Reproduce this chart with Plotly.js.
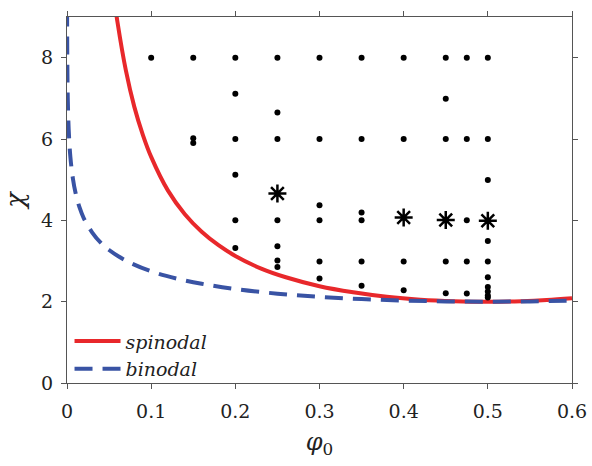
<!DOCTYPE html>
<html>
<head>
<meta charset="utf-8">
<script src="https://cdn.plot.ly/plotly-3.0.1.min.js"></script>
<style>html,body{margin:0;padding:0;background:#fff;}#chart{width:592px;height:466px;}</style>
</head>
<body>
<div id="chart"></div>
<script>
// Spinodal curve
const spinPhi = [0.0556, 0.06, 0.07, 0.08, 0.09, 0.10, 0.12, 0.14, 0.16, 0.18, 0.20, 0.23, 0.26, 0.30, 0.34, 0.38, 0.42, 0.46, 0.50, 0.54, 0.57, 0.60];
const spinChi = [9.52, 8.87, 7.68, 6.79, 6.11, 5.56, 4.73, 4.15, 3.72, 3.39, 3.125, 2.82, 2.60, 2.38, 2.23, 2.12, 2.05, 2.013, 2.0, 2.013, 2.04, 2.083];
// Binodal curve
const binPhi = [0.0001, 0.0002, 0.0005, 0.001, 0.002, 0.004, 0.007, 0.01, 0.015, 0.02, 0.03, 0.04, 0.05, 0.07, 0.10, 0.13, 0.16, 0.20, 0.25, 0.30, 0.35, 0.40, 0.45, 0.50, 0.55, 0.60];
const binChi = [9.21, 8.52, 7.61, 6.92, 6.24, 5.56, 5.03, 4.69, 4.31, 4.05, 3.70, 3.45, 3.27, 3.01, 2.746, 2.57, 2.44, 2.31, 2.197, 2.118, 2.063, 2.027, 2.007, 2.0, 2.007, 2.027];
// Simulation points (dots)
const dotPhi = [
  0.10, 0.15, 0.20, 0.25, 0.30, 0.35, 0.40, 0.45, 0.475, 0.50,
  0.20, 0.25, 0.45,
  0.15, 0.15, 0.20, 0.25, 0.30, 0.35, 0.40, 0.45, 0.475, 0.50,
  0.20, 0.50,
  0.30, 0.35,
  0.20, 0.25, 0.30, 0.35, 0.475,
  0.50,
  0.20, 0.25,
  0.25, 0.25,
  0.30, 0.35, 0.40, 0.45, 0.475, 0.50,
  0.30, 0.50,
  0.35, 0.50,
  0.40, 0.45, 0.475, 0.50,
  0.50, 0.50
];
const dotChi = [
  8, 8, 8, 8, 8, 8, 8, 8, 8, 8,
  7.11, 6.65, 6.99,
  6.02, 5.9, 6, 6, 6, 6, 6, 6, 6, 6,
  5.12, 4.99,
  4.37, 4.19,
  4.0, 4.0, 4.0, 4.0, 4.0,
  3.49,
  3.32, 3.36,
  3.01, 2.85,
  2.99, 2.99, 2.99, 2.99, 2.99, 2.99,
  2.57, 2.6,
  2.39, 2.36,
  2.28, 2.21, 2.2, 2.25,
  2.15, 2.1
];
// Asterisk points
const starPhi = [0.25, 0.40, 0.45, 0.50];
const starChi = [4.66, 4.07, 4.01, 3.99];

const xTicks = [0, 0.1, 0.2, 0.3, 0.4, 0.5, 0.6];
const xTickText = ['0', '0.1', '0.2', '0.3', '0.4', '0.5', '0.6'];
const yTicks = [0, 2, 4, 6, 8];

const serif = 'DejaVu Serif';
const traces = [
  {x: spinPhi, y: spinChi, type: 'scatter', mode: 'lines', name: 'spinodal',
   line: {color: '#e8282b', width: 4, shape: 'spline'}},
  {x: binPhi, y: binChi, type: 'scatter', mode: 'lines', name: 'binodal',
   line: {color: '#3953a4', width: 4, dash: '18px,10px', shape: 'spline'}},
  {x: dotPhi, y: dotChi, type: 'scatter', mode: 'markers', showlegend: false,
   marker: {color: '#000', size: 6, symbol: 'circle'}},
  {x: starPhi, y: starChi, type: 'scatter', mode: 'markers', showlegend: false,
   marker: {color: '#000', size: 15, symbol: 'asterisk-open', line: {color: '#000', width: 2.5}}}
];

const axisCommon = {
  showgrid: false, zeroline: false, showline: true, linecolor: '#555', linewidth: 1,
  mirror: 'ticks', ticks: 'outside', ticklen: 5, tickcolor: '#555', tickwidth: 1,
  tickfont: {family: serif, size: 19, color: '#222'}
};

const layout = {
  width: 592, height: 466,
  margin: {l: 67, r: 20, t: 17, b: 83},
  paper_bgcolor: '#fff', plot_bgcolor: '#fff',
  showlegend: true,
  legend: {x: 0.005, y: 0.166, xanchor: 'left', yanchor: 'top', bgcolor: 'rgba(0,0,0,0)',
           itemwidth: 46, tracegroupgap: 0,
           font: {family: serif, size: 19, color: '#222', style: 'italic'}},
  xaxis: Object.assign({}, axisCommon, {
    range: [0, 0.6], tickvals: xTicks, ticktext: xTickText, ticklabelstandoff: 6,
    title: {text: '<i>φ</i><sub>0</sub>', font: {family: serif, size: 24, color: '#222'}, standoff: 12}
  }),
  yaxis: Object.assign({}, axisCommon, {
    range: [0, 9], tickvals: yTicks, ticklabelstandoff: 4,
    title: {text: '<i>χ</i>', font: {family: serif, size: 26, color: '#222'}, standoff: 10}
  })
};

Plotly.newPlot('chart', traces, layout, {displayModeBar: false, staticPlot: true});
</script>
</body>
</html>
